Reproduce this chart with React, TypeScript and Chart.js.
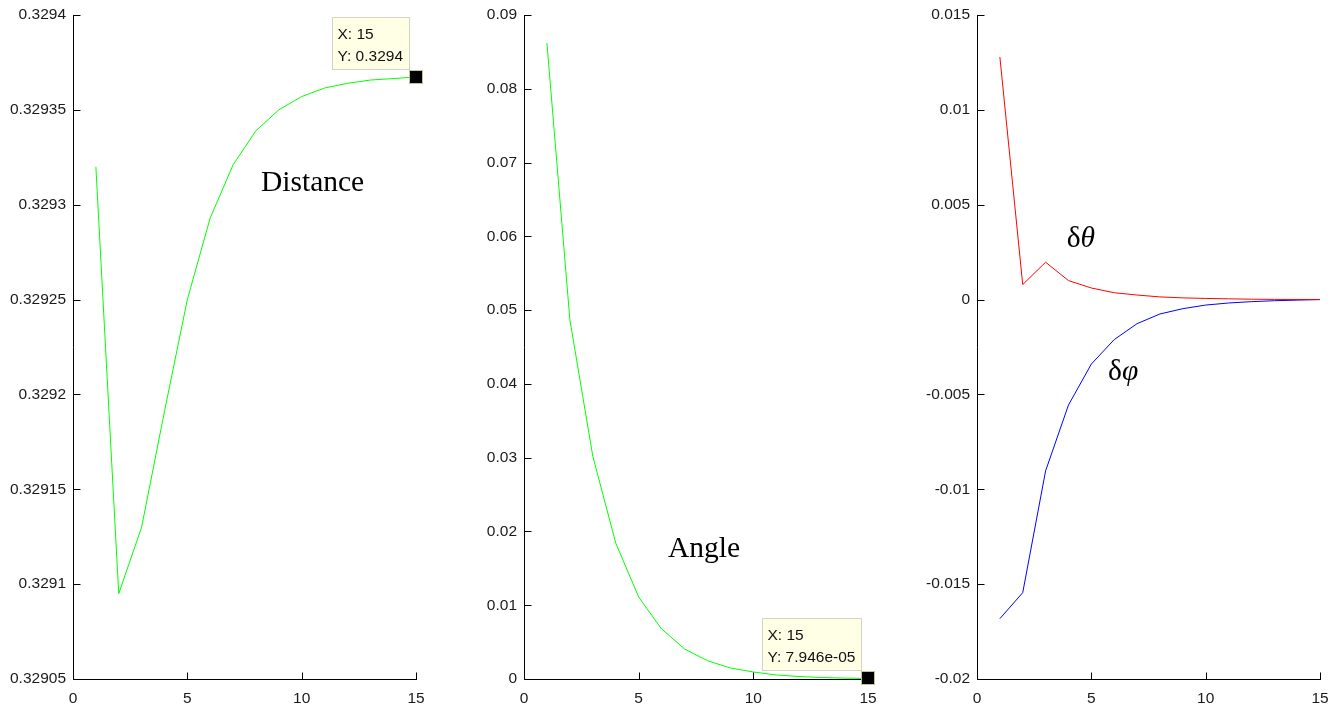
import React, { useEffect, useRef } from "react";
import { Chart, registerables } from "chart.js";
Chart.register(...registerables);

const xs = [1, 2, 3, 4, 5, 6, 7, 8, 9, 10, 11, 12, 13, 14, 15];
const distance = [0.32932, 0.329095, 0.32913, 0.329191, 0.32925, 0.329293, 0.329321, 0.329339, 0.32935, 0.329357, 0.3293615, 0.329364, 0.3293657, 0.3293665, 0.3293673];
const angle = [0.0862, 0.0487, 0.0302, 0.01843, 0.01111, 0.00678, 0.00407, 0.00248, 0.00149, 0.00095, 0.00055, 0.00033, 0.0002, 0.00012, 0.00007946];
const dTheta = [0.01279, 0.00079, 0.00197, 0.001, 0.00061, 0.00036, 0.00024, 0.00014, 0.00009, 0.00006, 0.00004, 0.00002, 0.00001, 0.000005, 0];
const dPhi = [-0.01682, -0.01545, -0.00903, -0.00556, -0.0034, -0.00211, -0.00127, -0.00076, -0.00048, -0.00029, -0.00018, -0.00011, -0.00006, -0.00003, 0];

const distanceTicks = [0.32905, 0.3291, 0.32915, 0.3292, 0.32925, 0.3293, 0.32935, 0.3294];
const angleTicks = [0, 0.01, 0.02, 0.03, 0.04, 0.05, 0.06, 0.07, 0.08, 0.09];
const deltaTicks = [-0.02, -0.015, -0.01, -0.005, 0, 0.005, 0.01, 0.015];
const xTicks = [0, 5, 10, 15];

const tipDistance = ["X: 15", "Y: 0.3294"];
const tipAngle = ["X: 15", "Y: 7.946e-05"];

type Label = { x: number; y: number; parts: { t: string; italic: boolean }[] };
type Tip = { datasetIndex: number; index: number; lines: string[] };

type PanelProps = {
  left: number;
  width: number;
  datasets: { data: number[]; color: string }[];
  yTicks: number[];
  labels: Label[];
  tip?: Tip;
};

const SANS = "'Liberation Sans', Arial, sans-serif";
const SERIF = "'Liberation Serif', 'Times New Roman', serif";

const fmt = (v: number) => String(Number(v.toPrecision(10)));

function Panel({ left, width, datasets, yTicks, labels, tip }: PanelProps) {
  const ref = useRef<HTMLCanvasElement>(null);
  useEffect(() => {
    const canvas = ref.current!;
    const extras = {
      id: "extras",
      afterDraw(chart: any) {
        const ctx = chart.ctx;
        const xS = chart.scales.x;
        const yS = chart.scales.y;
        const a = chart.chartArea;
        ctx.save();
        // axis lines and inward tick marks
        ctx.strokeStyle = "#000";
        ctx.lineWidth = 1;
        ctx.beginPath();
        const L = Math.round(a.left) + 0.5;
        const B = Math.round(a.bottom) + 0.5;
        ctx.moveTo(L, Math.round(a.top));
        ctx.lineTo(L, B);
        ctx.lineTo(Math.round(a.right) + 1, B);
        yS.ticks.forEach((t: any) => {
          const py = Math.round(yS.getPixelForValue(t.value)) + 0.5;
          ctx.moveTo(L, py);
          ctx.lineTo(L + 7, py);
        });
        xS.ticks.forEach((t: any) => {
          const px = Math.round(xS.getPixelForValue(t.value)) + 0.5;
          ctx.moveTo(px, B);
          ctx.lineTo(px, B - 7);
        });
        ctx.stroke();
        // annotations
        ctx.fillStyle = "#000";
        ctx.textBaseline = "alphabetic";
        ctx.textAlign = "left";
        labels.forEach((l) => {
          let px = xS.getPixelForValue(l.x);
          const py = yS.getPixelForValue(l.y);
          l.parts.forEach((p) => {
            ctx.font = (p.italic ? "italic " : "") + "29.5px " + SERIF;
            ctx.fillText(p.t, px, py);
            px += ctx.measureText(p.t).width;
          });
        });
        // data tip
        if (tip) {
          const src = datasets[tip.datasetIndex].data;
          const mx = xS.getPixelForValue(xs[tip.index]);
          const my = yS.getPixelForValue(src[tip.index]);
          ctx.font = "15.5px " + SANS;
          const tw = Math.max(...tip.lines.map((s) => ctx.measureText(s).width));
          const bw = Math.round(tw + 11);
          const bh = 52;
          const bx = Math.round(mx - 7 - bw) + 0.5;
          const by = Math.round(my - 8 - bh) + 0.5;
          ctx.fillStyle = "#FFFFE6";
          ctx.fillRect(bx, by, bw, bh);
          ctx.strokeStyle = "#D4D4C4";
          ctx.strokeRect(bx, by, bw, bh);
          ctx.fillStyle = "#111";
          tip.lines.forEach((s, i) => {
            ctx.fillText(s, bx + 5, by + 21 + i * 22);
          });
          ctx.fillStyle = "#000";
          ctx.fillRect(Math.round(mx) - 6, Math.round(my) - 6, 12, 12);
          ctx.strokeStyle = "#C8C09A";
          ctx.strokeRect(Math.round(mx) - 6.5, Math.round(my) - 6.5, 13, 13);
        }
        ctx.restore();
      },
    };
    const chart = new Chart(canvas, {
      type: "line",
      data: {
        labels: xs,
        datasets: datasets.map((d) => ({
          data: d.data.map((v, i) => ({ x: xs[i], y: v })),
          borderColor: d.color,
          backgroundColor: d.color,
          borderWidth: 1,
          pointRadius: 0,
          tension: 0,
          fill: false,
          clip: false as any,
        })),
      },
      options: {
        responsive: false,
        animation: false,
        events: [],
        layout: { padding: { top: 15, right: 12, bottom: 0, left: 0 } },
        plugins: { legend: { display: false }, tooltip: { enabled: false } },
        scales: {
          x: {
            type: "linear",
            min: 0,
            max: 15,
            afterBuildTicks: (s: any) => {
              s.ticks = xTicks.map((v) => ({ value: v }));
            },
            afterFit: (s: any) => {
              s.height = 29;
              s.paddingLeft = 0;
              s.paddingRight = 0;
            },
            grid: { display: false, drawTicks: false },
            border: { display: false },
            ticks: {
              padding: 10,
              color: "#1a1a1a",
              font: { family: SANS, size: 15.5 },
              maxRotation: 0,
              callback: (v: any) => fmt(Number(v)),
            },
          },
          y: {
            type: "linear",
            min: yTicks[0],
            max: yTicks[yTicks.length - 1],
            afterBuildTicks: (s: any) => {
              s.ticks = yTicks.map((v) => ({ value: v }));
            },
            afterFit: (s: any) => {
              s.width = 70;
              s.paddingTop = 0;
              s.paddingBottom = 0;
            },
            grid: { display: false, drawTicks: false },
            border: { display: false },
            ticks: {
              padding: 7,
              color: "#1a1a1a",
              font: { family: SANS, size: 15.5 },
              callback: (v: any) => fmt(Number(v)),
            },
          },
        },
      },
      plugins: [extras],
    });
    return () => chart.destroy();
  }, []);
  return (
    <div style={{ position: "absolute", left, top: 0, width, height: 708 }}>
      <canvas ref={ref} width={width} height={708} style={{ display: "block" }} />
    </div>
  );
}

export default function App() {
  return (
    <div style={{ position: "absolute", left: 0, top: 0, width: 1343, height: 708, background: "#fff" }}>
      <Panel
        left={3}
        width={425}
        datasets={[{ data: distance, color: "#00FF00" }]}
        yTicks={distanceTicks}
        labels={[{ x: 8.22, y: 0.329307, parts: [{ t: "Distance", italic: false }] }]}
        tip={{ datasetIndex: 0, index: 14, lines: tipDistance }}
      />
      <Panel
        left={454}
        width={426}
        datasets={[{ data: angle, color: "#00FF00" }]}
        yTicks={angleTicks}
        labels={[{ x: 6.28, y: 0.01654, parts: [{ t: "Angle", italic: false }] }]}
        tip={{ datasetIndex: 0, index: 14, lines: tipAngle }}
      />
      <Panel
        left={907}
        width={425}
        datasets={[
          { data: dTheta, color: "#FF0000" },
          { data: dPhi, color: "#0000FF" },
        ]}
        yTicks={deltaTicks}
        labels={[
          { x: 3.92, y: 0.00279, parts: [{ t: "δ", italic: false }, { t: "θ", italic: true }] },
          { x: 5.73, y: -0.00424, parts: [{ t: "δ", italic: false }, { t: "φ", italic: true }] },
        ]}
      />
    </div>
  );
}
